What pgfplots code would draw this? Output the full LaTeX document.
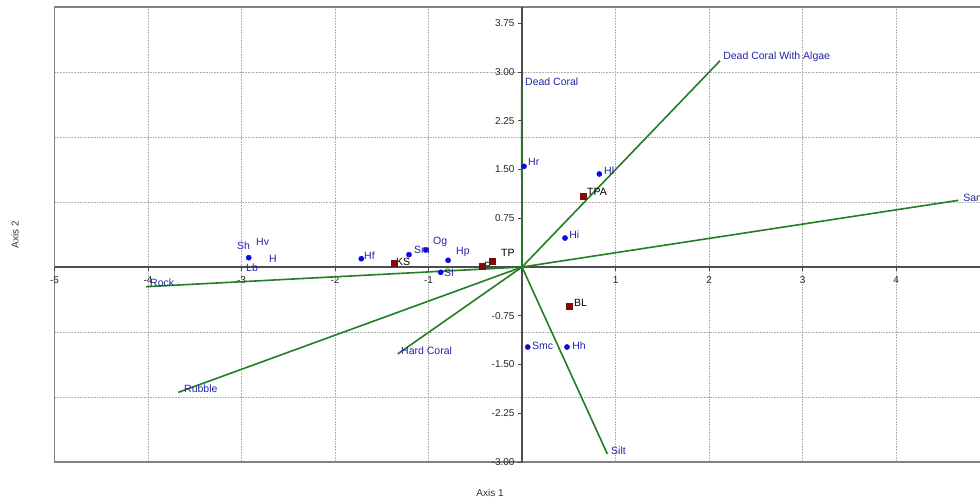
\documentclass[border=0pt]{standalone}
\usepackage{fontspec}
\setmainfont{Liberation Sans}
\usepackage{pgfplots}
\pgfplotsset{compat=1.18}
\definecolor{ptblue}{RGB}{10,10,225}
\definecolor{lblblue}{RGB}{35,35,170}
\definecolor{vgreen}{RGB}{35,125,35}
\definecolor{sqred}{RGB}{128,10,10}
\definecolor{gridgray}{RGB}{175,175,175}
\definecolor{framegray}{RGB}{130,130,130}
\pgfplotsset{
  common/.style={
    x=93.5pt, y=65pt,
    xmin=-5, xmax=5.3, ymin=-3, ymax=4,
    clip=false,
  },
  vec/.style={vgreen, line width=1.6pt, forget plot},
}
\tikzset{
  lbl/.style={anchor=west, inner sep=0pt, font=\fontsize{10.5}{12}\selectfont, text=lblblue},
  slbl/.style={anchor=west, inner sep=0pt, font=\fontsize{10.5}{12}\selectfont, text=black},
}
\begin{document}
\begin{tikzpicture}
% frame and grid
\begin{axis}[common,
  axis line style={draw=framegray, line width=1.1pt},
  xtick={-4,...,4}, ytick={-2,...,3},
  xticklabels={}, yticklabels={},
  major tick length=0pt,
  grid=major,
  major grid style={gridgray, dash pattern=on 1.8pt off 1pt, line width=0.6pt},
]
\coordinate (bbbl) at (axis cs:-5.583,-3.615);
\coordinate (bbtr) at (axis cs:4.898,4.108);
\node[font=\fontsize{10}{11}\selectfont, text=black!80] at (axis cs:-0.342,-3.477) {Axis 1};
\node[font=\fontsize{10}{11}\selectfont, text=black!80, rotate=90] at (axis cs:-5.422,0.492) {Axis 2};
\end{axis}
% middle axes, ticks and data
\begin{axis}[common,
  axis lines=middle,
  axis line style={-, draw=black!70, line width=1.1pt},
  xtick={-5,-4,-3,-2,-1,1,2,3,4},
  ytick={-3,-2.25,-1.5,-0.75,0.75,1.5,2.25,3,3.75},
  yticklabel style={/pgf/number format/.cd, fixed, fixed zerofill, precision=2},
  xticklabel style={yshift=-2pt},
  tick align=outside,
  major tick length=4pt,
  tick style={black!70, line width=0.8pt},
  ticklabel style={font=\fontsize{10}{12}\selectfont, text=black!85},
  /pgf/number format/assume math mode=true,
]
% environmental vectors
\addplot[vec] coordinates {(0,0) (-0.005,2.785)};  % Dead Coral
\addplot[vec] coordinates {(0,0) (2.118,3.174)};   % Dead Coral With Algae
\addplot[vec] coordinates {(0,0) (4.667,1.026)};   % Sand
\addplot[vec] coordinates {(0,0) (-4.021,-0.303)}; % Rock
\addplot[vec] coordinates {(0,0) (-3.676,-1.928)}; % Rubble
\addplot[vec] coordinates {(0,0) (-1.330,-1.338)}; % Hard Coral
\addplot[vec] coordinates {(0,0) (0.913,-2.877)};  % Silt
% species
\addplot[only marks, mark=*, mark size=2.6pt, ptblue, mark options={draw=ptblue, fill=ptblue}] coordinates {
  (0.021,1.549) (0.827,1.431) (0.460,0.446)
  (-1.030,0.262) (-1.209,0.190) (-0.791,0.103) (-0.870,-0.082)
  (-1.719,0.128) (-2.923,0.144) (0.061,-1.231) (0.481,-1.231)
};
% sites
\addplot[only marks, mark=square*, mark size=3pt, sqred, mark options={draw=sqred, fill=sqred}] coordinates {
  (0.649,1.097) (0.506,-0.610) (-1.366,0.066) (-0.324,0.097) (-0.424,0.005)
};
% vector labels
\node[lbl] at (axis cs:0.032,2.846) {Dead Coral};
\node[lbl] at (axis cs:2.150,3.231) {Dead Coral With Algae};
\node[lbl] at (axis cs:4.717,1.062) {Sand};
\node[lbl] at (axis cs:-3.979,-0.246) {Rock};
\node[lbl] at (axis cs:-3.615,-1.877) {Rubble};
\node[lbl] at (axis cs:-1.294,-1.292) {Hard Coral};
\node[lbl] at (axis cs:0.952,-2.831) {Silt};
% species labels
\node[lbl] at (axis cs:0.064,1.615) {Hr};
\node[lbl] at (axis cs:0.877,1.477) {Hl};
\node[lbl] at (axis cs:0.503,0.492) {Hi};
\node[lbl] at (axis cs:-0.952,0.385) {Og};
\node[lbl] at (axis cs:-1.155,0.262) {Sm};
\node[lbl] at (axis cs:-0.706,0.231) {Hp};
\node[lbl] at (axis cs:-0.834,-0.092) {Sl};
\node[lbl] at (axis cs:-1.690,0.169) {Hf};
\node[lbl] at (axis cs:-3.048,0.323) {Sh};
\node[lbl] at (axis cs:-2.845,0.385) {Hv};
\node[lbl] at (axis cs:-2.706,0.123) {H};
\node[lbl] at (axis cs:-2.952,-0.015) {Lb};
\node[lbl] at (axis cs:0.107,-1.215) {Smc};
\node[lbl] at (axis cs:0.535,-1.215) {Hh};
% site labels
\node[slbl] at (axis cs:0.695,1.154) {TPA};
\node[slbl] at (axis cs:0.556,-0.554) {BL};
\node[slbl] at (axis cs:-1.348,0.077) {KS};
\node[slbl] at (axis cs:-0.225,0.215) {TP};
\node[slbl] at (axis cs:-0.406,0.015) {P};
\end{axis}
\pgfresetboundingbox
\path[use as bounding box] (bbbl) rectangle (bbtr);
\end{tikzpicture}
\end{document}
